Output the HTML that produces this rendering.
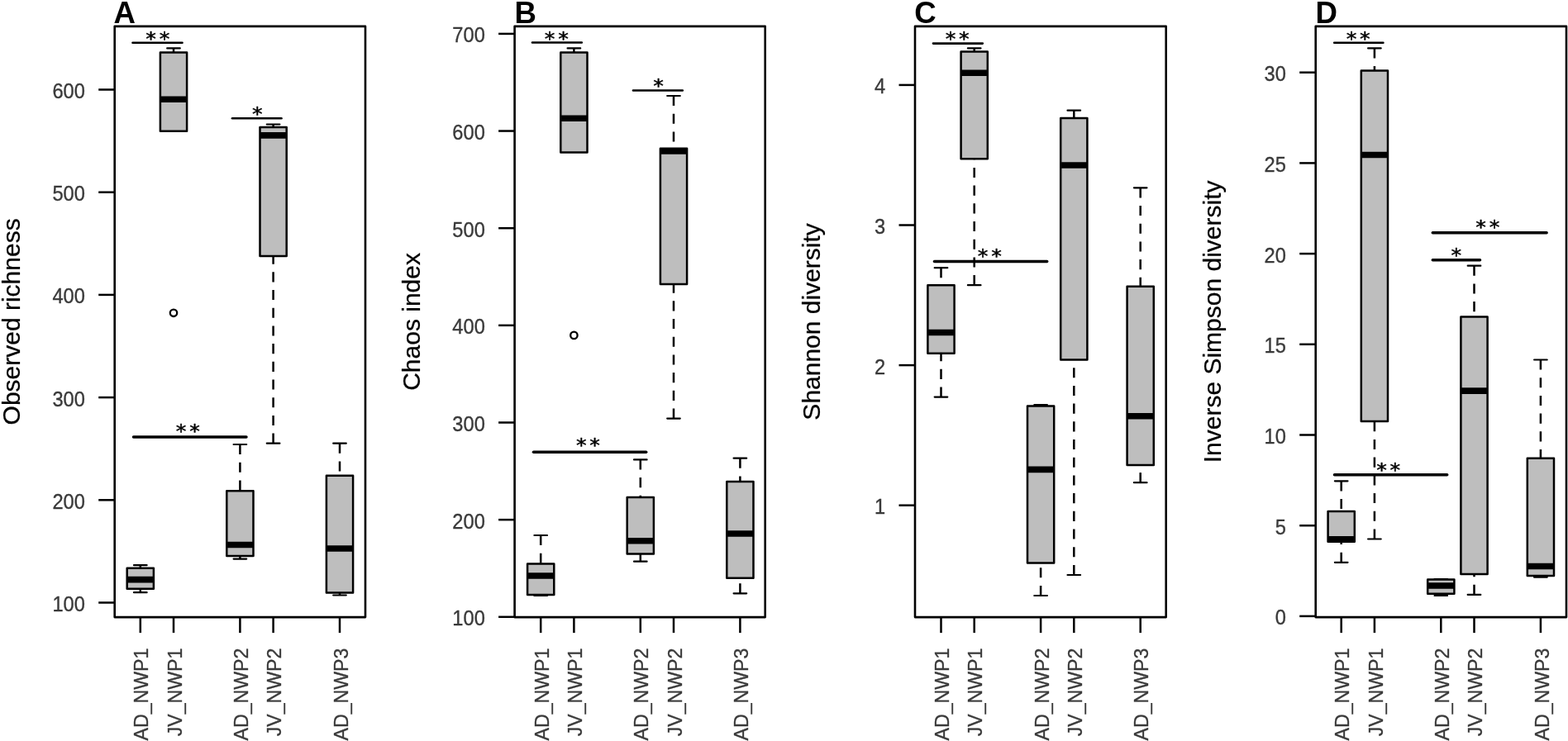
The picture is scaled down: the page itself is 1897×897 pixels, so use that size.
<!DOCTYPE html>
<html><head><meta charset="utf-8"><title>Alpha diversity boxplots</title>
<style>
html,body{margin:0;padding:0;background:#fff;}
svg{display:block;}
.tl{font-family:"Liberation Sans", Arial, Helvetica, sans-serif;font-size:24px;fill:#3a3a3a;stroke:#3a3a3a;stroke-width:0.35;}
.ti{font-family:"Liberation Sans", Arial, Helvetica, sans-serif;font-size:30px;fill:#000;stroke:#000;stroke-width:0.25;}
.lt{font-family:"Liberation Sans", Arial, Helvetica, sans-serif;font-size:37px;font-weight:bold;fill:#000;}
.st{font-family:"DejaVu Sans", sans-serif;font-size:23px;fill:#000;stroke:#000;stroke-width:0.45;stroke-linejoin:round;}
</style></head><body>
<svg width="1897" height="897" viewBox="0 0 1897 897">
<style>
.wh{stroke:#000;stroke-width:2.5;stroke-dasharray:12.1 9.6;fill:none;}
.sl{stroke:#000;stroke-width:2.2;stroke-linecap:round;}
.sb{stroke:#000;stroke-linecap:round;}
.bx{fill:#bebebe;stroke:#000;stroke-width:2.5;stroke-linejoin:round;}
.md{stroke:#000;stroke-width:7.6;}
.ol{fill:none;stroke:#000;stroke-width:2.3;}
.fr{fill:none;stroke:#000;stroke-width:2.6;stroke-linejoin:round;}
.tk{stroke:#000;stroke-width:2.5;}
</style>
<rect width="1897" height="897" fill="#fff"/>
<g>
<g>
<line x1="169.8" y1="684.2" x2="169.8" y2="687.8" class="wh"/>
<line x1="169.8" y1="717.2" x2="169.8" y2="712.7" class="wh"/>
<line x1="162" y1="684.2" x2="177.6" y2="684.2" class="sl"/>
<line x1="162" y1="717.2" x2="177.6" y2="717.2" class="sl"/>
<rect x="153.7" y="687.8" width="32.2" height="24.9" class="bx"/>
<line x1="153.7" y1="701.6" x2="185.9" y2="701.6" class="md"/>
<line x1="210" y1="58.4" x2="210" y2="63.4" class="wh"/>
<line x1="202.2" y1="58.4" x2="217.8" y2="58.4" class="sl"/>
<rect x="193.9" y="63.4" width="32.2" height="95.4" class="bx"/>
<line x1="193.9" y1="120.3" x2="226.1" y2="120.3" class="md"/>
<line x1="290.4" y1="538" x2="290.4" y2="594.2" class="wh"/>
<line x1="290.4" y1="676.6" x2="290.4" y2="673" class="wh"/>
<line x1="282.6" y1="538" x2="298.2" y2="538" class="sl"/>
<line x1="282.6" y1="676.6" x2="298.2" y2="676.6" class="sl"/>
<rect x="274.3" y="594.2" width="32.2" height="78.8" class="bx"/>
<line x1="274.3" y1="659.5" x2="306.5" y2="659.5" class="md"/>
<line x1="330.6" y1="150.5" x2="330.6" y2="153.9" class="wh"/>
<line x1="330.6" y1="536.7" x2="330.6" y2="310" class="wh"/>
<line x1="322.8" y1="150.5" x2="338.4" y2="150.5" class="sl"/>
<line x1="322.8" y1="536.7" x2="338.4" y2="536.7" class="sl"/>
<rect x="314.5" y="153.9" width="32.2" height="156.1" class="bx"/>
<line x1="314.5" y1="163.9" x2="346.7" y2="163.9" class="md"/>
<line x1="411" y1="536.7" x2="411" y2="575.7" class="wh"/>
<line x1="411" y1="720.5" x2="411" y2="717.6" class="wh"/>
<line x1="403.2" y1="536.7" x2="418.8" y2="536.7" class="sl"/>
<line x1="403.2" y1="720.5" x2="418.8" y2="720.5" class="sl"/>
<rect x="394.9" y="575.7" width="32.2" height="141.9" class="bx"/>
<line x1="394.9" y1="664" x2="427.1" y2="664" class="md"/>
<circle cx="210" cy="378.8" r="4.2" class="ol"/>
<line x1="160.5" y1="51.8" x2="220.5" y2="51.8" class="sb" stroke-width="2.6"/>
<text transform="translate(176.34 54.95) scale(1.1 1)" class="st" letter-spacing="3.41">**</text>
<line x1="281" y1="143.3" x2="340.5" y2="143.3" class="sb" stroke-width="2.6"/>
<text transform="translate(305.04 146.34) scale(1.1 1)" class="st" letter-spacing="3.41">*</text>
<line x1="161.5" y1="529" x2="298" y2="529" class="sb" stroke-width="3.5"/>
<text transform="translate(212.84 530.25) scale(1.1 1)" class="st" letter-spacing="3.41">**</text>
<rect x="138.7" y="31.9" width="303.3" height="715.2" class="fr"/>
<line x1="119.2" y1="108.5" x2="138.7" y2="108.5" class="tk"/>
<text transform="translate(102.9 118.9) scale(0.985 1.06)" class="tl" text-anchor="end">600</text>
<line x1="119.2" y1="232.7" x2="138.7" y2="232.7" class="tk"/>
<text transform="translate(102.9 243.1) scale(0.985 1.06)" class="tl" text-anchor="end">500</text>
<line x1="119.2" y1="356.9" x2="138.7" y2="356.9" class="tk"/>
<text transform="translate(102.9 367.3) scale(0.985 1.06)" class="tl" text-anchor="end">400</text>
<line x1="119.2" y1="481.1" x2="138.7" y2="481.1" class="tk"/>
<text transform="translate(102.9 491.5) scale(0.985 1.06)" class="tl" text-anchor="end">300</text>
<line x1="119.2" y1="605.3" x2="138.7" y2="605.3" class="tk"/>
<text transform="translate(102.9 615.7) scale(0.985 1.06)" class="tl" text-anchor="end">200</text>
<line x1="119.2" y1="729.5" x2="138.7" y2="729.5" class="tk"/>
<text transform="translate(102.9 739.9) scale(0.985 1.06)" class="tl" text-anchor="end">100</text>
<line x1="169.8" y1="747.1" x2="169.8" y2="766.1" class="tk"/>
<text transform="translate(179.4 784.6) rotate(-90) scale(0.965 1.03)" class="tl" text-anchor="end">AD_NWP1</text>
<line x1="210" y1="747.1" x2="210" y2="766.1" class="tk"/>
<text transform="translate(219.6 784.6) rotate(-90) scale(0.965 1.03)" class="tl" text-anchor="end">JV_NWP1</text>
<line x1="290.4" y1="747.1" x2="290.4" y2="766.1" class="tk"/>
<text transform="translate(300 784.6) rotate(-90) scale(0.965 1.03)" class="tl" text-anchor="end">AD_NWP2</text>
<line x1="330.6" y1="747.1" x2="330.6" y2="766.1" class="tk"/>
<text transform="translate(340.2 784.6) rotate(-90) scale(0.965 1.03)" class="tl" text-anchor="end">JV_NWP2</text>
<line x1="411" y1="747.1" x2="411" y2="766.1" class="tk"/>
<text transform="translate(420.6 784.6) rotate(-90) scale(0.965 1.03)" class="tl" text-anchor="end">AD_NWP3</text>
<text transform="translate(23.7 389.4) rotate(-90)" class="ti" text-anchor="middle">Observed richness</text>
<text transform="translate(137.4 27.8) scale(0.99 1)" class="lt">A</text>
</g>
<g>
<line x1="654.2" y1="648" x2="654.2" y2="682.6" class="wh"/>
<line x1="654.2" y1="721" x2="654.2" y2="720.1" class="wh"/>
<line x1="646.4" y1="648" x2="662" y2="648" class="sl"/>
<line x1="646.4" y1="721" x2="662" y2="721" class="sl"/>
<rect x="638.1" y="682.6" width="32.2" height="37.5" class="bx"/>
<line x1="638.1" y1="697" x2="670.3" y2="697" class="md"/>
<line x1="694.4" y1="58.4" x2="694.4" y2="63.4" class="wh"/>
<line x1="686.6" y1="58.4" x2="702.2" y2="58.4" class="sl"/>
<rect x="678.3" y="63.4" width="32.2" height="121.1" class="bx"/>
<line x1="678.3" y1="143.2" x2="710.5" y2="143.2" class="md"/>
<line x1="774.8" y1="556.4" x2="774.8" y2="601.9" class="wh"/>
<line x1="774.8" y1="679.7" x2="774.8" y2="670.4" class="wh"/>
<line x1="767" y1="556.4" x2="782.6" y2="556.4" class="sl"/>
<line x1="767" y1="679.7" x2="782.6" y2="679.7" class="sl"/>
<rect x="758.7" y="601.9" width="32.2" height="68.5" class="bx"/>
<line x1="758.7" y1="654.8" x2="790.9" y2="654.8" class="md"/>
<line x1="815" y1="116" x2="815" y2="179.8" class="wh"/>
<line x1="815" y1="506.6" x2="815" y2="344" class="wh"/>
<line x1="807.2" y1="116" x2="822.8" y2="116" class="sl"/>
<line x1="807.2" y1="506.6" x2="822.8" y2="506.6" class="sl"/>
<rect x="798.9" y="179.8" width="32.2" height="164.2" class="bx"/>
<line x1="798.9" y1="183" x2="831.1" y2="183" class="md"/>
<line x1="895.4" y1="554.7" x2="895.4" y2="583" class="wh"/>
<line x1="895.4" y1="718.3" x2="895.4" y2="699.8" class="wh"/>
<line x1="887.6" y1="554.7" x2="903.2" y2="554.7" class="sl"/>
<line x1="887.6" y1="718.3" x2="903.2" y2="718.3" class="sl"/>
<rect x="879.3" y="583" width="32.2" height="116.8" class="bx"/>
<line x1="879.3" y1="646" x2="911.5" y2="646" class="md"/>
<circle cx="694.4" cy="405.9" r="4.2" class="ol"/>
<line x1="644" y1="51.5" x2="703.8" y2="51.5" class="sb" stroke-width="2.6"/>
<text transform="translate(658.74 54.74) scale(1.1 1)" class="st" letter-spacing="3.41">**</text>
<line x1="766" y1="109.45" x2="825.8" y2="109.45" class="sb" stroke-width="2.6"/>
<text transform="translate(790.24 112.44) scale(1.1 1)" class="st" letter-spacing="3.41">*</text>
<line x1="645.5" y1="547.2" x2="781.7" y2="547.2" class="sb" stroke-width="3.5"/>
<text transform="translate(696.94 547.25) scale(1.1 1)" class="st" letter-spacing="3.41">**</text>
<rect x="622.6" y="31.9" width="303.1" height="715.2" class="fr"/>
<line x1="603.1" y1="40.9" x2="622.6" y2="40.9" class="tk"/>
<text transform="translate(586.8 51.3) scale(0.985 1.06)" class="tl" text-anchor="end">700</text>
<line x1="603.1" y1="158.55" x2="622.6" y2="158.55" class="tk"/>
<text transform="translate(586.8 168.95) scale(0.985 1.06)" class="tl" text-anchor="end">600</text>
<line x1="603.1" y1="276.2" x2="622.6" y2="276.2" class="tk"/>
<text transform="translate(586.8 286.6) scale(0.985 1.06)" class="tl" text-anchor="end">500</text>
<line x1="603.1" y1="393.85" x2="622.6" y2="393.85" class="tk"/>
<text transform="translate(586.8 404.25) scale(0.985 1.06)" class="tl" text-anchor="end">400</text>
<line x1="603.1" y1="511.5" x2="622.6" y2="511.5" class="tk"/>
<text transform="translate(586.8 521.9) scale(0.985 1.06)" class="tl" text-anchor="end">300</text>
<line x1="603.1" y1="629.15" x2="622.6" y2="629.15" class="tk"/>
<text transform="translate(586.8 639.55) scale(0.985 1.06)" class="tl" text-anchor="end">200</text>
<line x1="603.1" y1="746.8" x2="622.6" y2="746.8" class="tk"/>
<text transform="translate(586.8 757.2) scale(0.985 1.06)" class="tl" text-anchor="end">100</text>
<line x1="654.2" y1="747.1" x2="654.2" y2="766.1" class="tk"/>
<text transform="translate(663.8 784.6) rotate(-90) scale(0.965 1.03)" class="tl" text-anchor="end">AD_NWP1</text>
<line x1="694.4" y1="747.1" x2="694.4" y2="766.1" class="tk"/>
<text transform="translate(704 784.6) rotate(-90) scale(0.965 1.03)" class="tl" text-anchor="end">JV_NWP1</text>
<line x1="774.8" y1="747.1" x2="774.8" y2="766.1" class="tk"/>
<text transform="translate(784.4 784.6) rotate(-90) scale(0.965 1.03)" class="tl" text-anchor="end">AD_NWP2</text>
<line x1="815" y1="747.1" x2="815" y2="766.1" class="tk"/>
<text transform="translate(824.6 784.6) rotate(-90) scale(0.965 1.03)" class="tl" text-anchor="end">JV_NWP2</text>
<line x1="895.4" y1="747.1" x2="895.4" y2="766.1" class="tk"/>
<text transform="translate(905 784.6) rotate(-90) scale(0.965 1.03)" class="tl" text-anchor="end">AD_NWP3</text>
<text transform="translate(507.6 389.4) rotate(-90)" class="ti" text-anchor="middle">Chaos index</text>
<text transform="translate(622.6 27.8) scale(0.99 1)" class="lt">B</text>
</g>
<g>
<line x1="1138.5" y1="324.2" x2="1138.5" y2="345.2" class="wh"/>
<line x1="1138.5" y1="480.6" x2="1138.5" y2="427.8" class="wh"/>
<line x1="1130.7" y1="324.2" x2="1146.3" y2="324.2" class="sl"/>
<line x1="1130.7" y1="480.6" x2="1146.3" y2="480.6" class="sl"/>
<rect x="1122.4" y="345.2" width="32.2" height="82.6" class="bx"/>
<line x1="1122.4" y1="402.5" x2="1154.6" y2="402.5" class="md"/>
<line x1="1178.7" y1="58.4" x2="1178.7" y2="62.4" class="wh"/>
<line x1="1178.7" y1="345.2" x2="1178.7" y2="192.2" class="wh"/>
<line x1="1170.9" y1="58.4" x2="1186.5" y2="58.4" class="sl"/>
<line x1="1170.9" y1="345.2" x2="1186.5" y2="345.2" class="sl"/>
<rect x="1162.6" y="62.4" width="32.2" height="129.8" class="bx"/>
<line x1="1162.6" y1="88.2" x2="1194.8" y2="88.2" class="md"/>
<line x1="1259.1" y1="490" x2="1259.1" y2="491.6" class="wh"/>
<line x1="1259.1" y1="721" x2="1259.1" y2="681.5" class="wh"/>
<line x1="1251.3" y1="490" x2="1266.9" y2="490" class="sl"/>
<line x1="1251.3" y1="721" x2="1266.9" y2="721" class="sl"/>
<rect x="1243" y="491.6" width="32.2" height="189.9" class="bx"/>
<line x1="1243" y1="568.4" x2="1275.2" y2="568.4" class="md"/>
<line x1="1299.3" y1="133.7" x2="1299.3" y2="143" class="wh"/>
<line x1="1299.3" y1="696" x2="1299.3" y2="435.5" class="wh"/>
<line x1="1291.5" y1="133.7" x2="1307.1" y2="133.7" class="sl"/>
<line x1="1291.5" y1="696" x2="1307.1" y2="696" class="sl"/>
<rect x="1283.2" y="143" width="32.2" height="292.5" class="bx"/>
<line x1="1283.2" y1="200" x2="1315.4" y2="200" class="md"/>
<line x1="1379.7" y1="227.3" x2="1379.7" y2="346.8" class="wh"/>
<line x1="1379.7" y1="584.2" x2="1379.7" y2="563" class="wh"/>
<line x1="1371.9" y1="227.3" x2="1387.5" y2="227.3" class="sl"/>
<line x1="1371.9" y1="584.2" x2="1387.5" y2="584.2" class="sl"/>
<rect x="1363.6" y="346.8" width="32.2" height="216.2" class="bx"/>
<line x1="1363.6" y1="503.7" x2="1395.8" y2="503.7" class="md"/>
<line x1="1129" y1="52.6" x2="1188.8" y2="52.6" class="sb" stroke-width="2.6"/>
<text transform="translate(1143.64 55.45) scale(1.1 1)" class="st" letter-spacing="3.41">**</text>
<line x1="1130.5" y1="316.4" x2="1266.7" y2="316.4" class="sb" stroke-width="3.5"/>
<text transform="translate(1182.84 318.05) scale(1.1 1)" class="st" letter-spacing="3.41">**</text>
<rect x="1107" y="31.9" width="303.7" height="715.2" class="fr"/>
<line x1="1087.5" y1="102.9" x2="1107" y2="102.9" class="tk"/>
<text transform="translate(1071.2 113.3) scale(0.985 1.06)" class="tl" text-anchor="end">4</text>
<line x1="1087.5" y1="272.5" x2="1107" y2="272.5" class="tk"/>
<text transform="translate(1071.2 282.9) scale(0.985 1.06)" class="tl" text-anchor="end">3</text>
<line x1="1087.5" y1="442.1" x2="1107" y2="442.1" class="tk"/>
<text transform="translate(1071.2 452.5) scale(0.985 1.06)" class="tl" text-anchor="end">2</text>
<line x1="1087.5" y1="611.7" x2="1107" y2="611.7" class="tk"/>
<text transform="translate(1071.2 622.1) scale(0.985 1.06)" class="tl" text-anchor="end">1</text>
<line x1="1138.5" y1="747.1" x2="1138.5" y2="766.1" class="tk"/>
<text transform="translate(1148.1 784.6) rotate(-90) scale(0.965 1.03)" class="tl" text-anchor="end">AD_NWP1</text>
<line x1="1178.7" y1="747.1" x2="1178.7" y2="766.1" class="tk"/>
<text transform="translate(1188.3 784.6) rotate(-90) scale(0.965 1.03)" class="tl" text-anchor="end">JV_NWP1</text>
<line x1="1259.1" y1="747.1" x2="1259.1" y2="766.1" class="tk"/>
<text transform="translate(1268.7 784.6) rotate(-90) scale(0.965 1.03)" class="tl" text-anchor="end">AD_NWP2</text>
<line x1="1299.3" y1="747.1" x2="1299.3" y2="766.1" class="tk"/>
<text transform="translate(1308.9 784.6) rotate(-90) scale(0.965 1.03)" class="tl" text-anchor="end">JV_NWP2</text>
<line x1="1379.7" y1="747.1" x2="1379.7" y2="766.1" class="tk"/>
<text transform="translate(1389.3 784.6) rotate(-90) scale(0.965 1.03)" class="tl" text-anchor="end">AD_NWP3</text>
<text transform="translate(992 389.4) rotate(-90)" class="ti" text-anchor="middle">Shannon diversity</text>
<text transform="translate(1106.3 27.8) scale(0.99 1)" class="lt">C</text>
</g>
<g>
<line x1="1622.7" y1="582.3" x2="1622.7" y2="619.1" class="wh"/>
<line x1="1622.7" y1="680.8" x2="1622.7" y2="655.7" class="wh"/>
<line x1="1614.9" y1="582.3" x2="1630.5" y2="582.3" class="sl"/>
<line x1="1614.9" y1="680.8" x2="1630.5" y2="680.8" class="sl"/>
<rect x="1606.6" y="619.1" width="32.2" height="36.6" class="bx"/>
<line x1="1606.6" y1="652.8" x2="1638.8" y2="652.8" class="md"/>
<line x1="1662.9" y1="58.4" x2="1662.9" y2="85.6" class="wh"/>
<line x1="1662.9" y1="652.5" x2="1662.9" y2="510" class="wh"/>
<line x1="1655.1" y1="58.4" x2="1670.7" y2="58.4" class="sl"/>
<line x1="1655.1" y1="652.5" x2="1670.7" y2="652.5" class="sl"/>
<rect x="1646.8" y="85.6" width="32.2" height="424.4" class="bx"/>
<line x1="1646.8" y1="187.5" x2="1679" y2="187.5" class="md"/>
<line x1="1743.3" y1="701" x2="1743.3" y2="701.6" class="wh"/>
<line x1="1743.3" y1="721" x2="1743.3" y2="718.8" class="wh"/>
<line x1="1735.5" y1="701" x2="1751.1" y2="701" class="sl"/>
<line x1="1735.5" y1="721" x2="1751.1" y2="721" class="sl"/>
<rect x="1727.2" y="701.6" width="32.2" height="17.2" class="bx"/>
<line x1="1727.2" y1="709" x2="1759.4" y2="709" class="md"/>
<line x1="1783.5" y1="321.7" x2="1783.5" y2="383.6" class="wh"/>
<line x1="1783.5" y1="719.9" x2="1783.5" y2="694.9" class="wh"/>
<line x1="1775.7" y1="321.7" x2="1791.3" y2="321.7" class="sl"/>
<line x1="1775.7" y1="719.9" x2="1791.3" y2="719.9" class="sl"/>
<rect x="1767.4" y="383.6" width="32.2" height="311.3" class="bx"/>
<line x1="1767.4" y1="473.1" x2="1799.6" y2="473.1" class="md"/>
<line x1="1863.9" y1="435.5" x2="1863.9" y2="554.8" class="wh"/>
<line x1="1863.9" y1="698.7" x2="1863.9" y2="697.1" class="wh"/>
<line x1="1856.1" y1="435.5" x2="1871.7" y2="435.5" class="sl"/>
<line x1="1856.1" y1="698.7" x2="1871.7" y2="698.7" class="sl"/>
<rect x="1847.8" y="554.8" width="32.2" height="142.3" class="bx"/>
<line x1="1847.8" y1="685.5" x2="1880" y2="685.5" class="md"/>
<line x1="1614.2" y1="51.7" x2="1673.4" y2="51.7" class="sb" stroke-width="2.6"/>
<text transform="translate(1628.64 55.05) scale(1.1 1)" class="st" letter-spacing="3.41">**</text>
<line x1="1733.3" y1="281.8" x2="1871.1" y2="281.8" class="sb" stroke-width="3.5"/>
<text transform="translate(1785.24 282.85) scale(1.1 1)" class="st" letter-spacing="3.41">**</text>
<line x1="1733.3" y1="314.7" x2="1790.5" y2="314.7" class="sb" stroke-width="3.5"/>
<text transform="translate(1755.44 316.65) scale(1.1 1)" class="st" letter-spacing="3.41">*</text>
<line x1="1614.5" y1="574.75" x2="1750.7" y2="574.75" class="sb" stroke-width="3.5"/>
<text transform="translate(1665.14 576.64) scale(1.1 1)" class="st" letter-spacing="3.41">**</text>
<rect x="1591.7" y="31.9" width="303.3" height="715.2" class="fr"/>
<line x1="1572.2" y1="745.9" x2="1591.7" y2="745.9" class="tk"/>
<text transform="translate(1555.9 756.3) scale(0.985 1.06)" class="tl" text-anchor="end">0</text>
<line x1="1572.2" y1="636.2" x2="1591.7" y2="636.2" class="tk"/>
<text transform="translate(1555.9 646.6) scale(0.985 1.06)" class="tl" text-anchor="end">5</text>
<line x1="1572.2" y1="526.5" x2="1591.7" y2="526.5" class="tk"/>
<text transform="translate(1555.9 536.9) scale(0.985 1.06)" class="tl" text-anchor="end">10</text>
<line x1="1572.2" y1="416.8" x2="1591.7" y2="416.8" class="tk"/>
<text transform="translate(1555.9 427.2) scale(0.985 1.06)" class="tl" text-anchor="end">15</text>
<line x1="1572.2" y1="307.1" x2="1591.7" y2="307.1" class="tk"/>
<text transform="translate(1555.9 317.5) scale(0.985 1.06)" class="tl" text-anchor="end">20</text>
<line x1="1572.2" y1="197.4" x2="1591.7" y2="197.4" class="tk"/>
<text transform="translate(1555.9 207.8) scale(0.985 1.06)" class="tl" text-anchor="end">25</text>
<line x1="1572.2" y1="87.7" x2="1591.7" y2="87.7" class="tk"/>
<text transform="translate(1555.9 98.1) scale(0.985 1.06)" class="tl" text-anchor="end">30</text>
<line x1="1622.7" y1="747.1" x2="1622.7" y2="766.1" class="tk"/>
<text transform="translate(1632.3 784.6) rotate(-90) scale(0.965 1.03)" class="tl" text-anchor="end">AD_NWP1</text>
<line x1="1662.9" y1="747.1" x2="1662.9" y2="766.1" class="tk"/>
<text transform="translate(1672.5 784.6) rotate(-90) scale(0.965 1.03)" class="tl" text-anchor="end">JV_NWP1</text>
<line x1="1743.3" y1="747.1" x2="1743.3" y2="766.1" class="tk"/>
<text transform="translate(1752.9 784.6) rotate(-90) scale(0.965 1.03)" class="tl" text-anchor="end">AD_NWP2</text>
<line x1="1783.5" y1="747.1" x2="1783.5" y2="766.1" class="tk"/>
<text transform="translate(1793.1 784.6) rotate(-90) scale(0.965 1.03)" class="tl" text-anchor="end">JV_NWP2</text>
<line x1="1863.9" y1="747.1" x2="1863.9" y2="766.1" class="tk"/>
<text transform="translate(1873.5 784.6) rotate(-90) scale(0.965 1.03)" class="tl" text-anchor="end">AD_NWP3</text>
<text transform="translate(1476.7 389.4) rotate(-90)" class="ti" text-anchor="middle">Inverse Simpson diversity</text>
<text transform="translate(1591.4 27.8) scale(0.99 1)" class="lt">D</text>
</g>
</g>
</svg>
</body></html>
